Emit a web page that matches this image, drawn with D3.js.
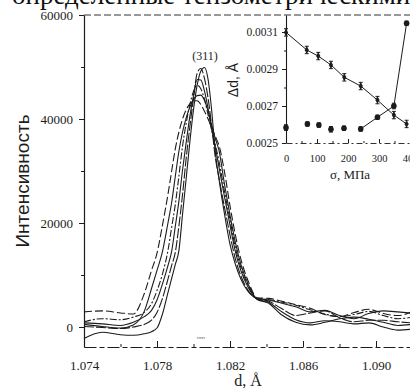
<!DOCTYPE html>
<html>
<head>
<meta charset="utf-8">
<script src="https://cdn.jsdelivr.net/npm/d3@7"></script>
<style>
  body { margin: 0; background: #fff; }
  svg { display: block; }
</style>
</head>
<body>
<div id="chart"></div>
<script>

// d values (Å) shared by all the scans
const dValues = [1.0740, 1.0750, 1.0760, 1.0767, 1.0773, 1.0777, 1.0780, 1.0783, 1.0786, 1.0788,
                 1.0790, 1.0792, 1.0794, 1.0796, 1.0798, 1.0800, 1.0802, 1.0804, 1.0806, 1.0808,
                 1.0810, 1.0812, 1.0814, 1.0817, 1.0820, 1.0823, 1.0826, 1.0830, 1.0835, 1.0841,
                 1.0848, 1.0856, 1.0864, 1.0872, 1.0880, 1.0888, 1.0896, 1.0904, 1.0912, 1.0920]

// intensity of the (311) peak, one scan per load
const scan1 = [-2200, -1000, -1500, -1600, -1300, -900, -200, 2500, 6600, 9300,
               12000, 14700, 21700, 28600, 35600, 41800, 46500, 49200, 49900, 47600,
               41500, 33500, 28400, 21700, 15900, 12000, 9200, 6800, 5500, 5200,
               4600, 3900, 2900, 3200, 2200, 1600, 2600, 3100, 2900, 2600]
const scan2 = [100, -100, -300, 0, 500, 1300, 2800, 5500, 9200, 11800,
               14300, 19400, 25500, 32500, 38500, 44000, 48800, 49700, 47800, 44000,
               38500, 32500, 28600, 23000, 17700, 13000, 9800, 7000, 5400, 5000,
               3600, 2200, 2700, 3100, 1800, 1000, 1300, 1300, 1000, 800]
const scan3 = [800, 600, 300, 900, 2000, 3200, 5200, 8300, 11800, 14500,
               19300, 24200, 30200, 35500, 40500, 44500, 47600, 47500, 45400, 42000,
               38000, 34500, 30700, 25000, 19600, 14400, 10800, 7600, 5300, 4600,
               2400, 900, 400, 900, 1600, 1900, 1500, 900, 300, 500]
const scan4 = [1000, 1600, 1400, 1900, 2800, 4500, 7000, 10200, 14700, 19100,
               23500, 29000, 34800, 39200, 42800, 45300, 46500, 45800, 43800, 40800,
               37800, 35000, 31800, 26000, 20600, 15200, 11400, 8000, 5400, 5300,
               4800, 4200, 3300, 2500, 2000, 2400, 3000, 2200, 1600, 1900]
const scan5 = [500, 100, -200, 400, 3000, 7400, 10900, 14500, 20000, 23900,
               28900, 33800, 37500, 40200, 42300, 43700, 44500, 44600, 43600, 41500,
               38800, 36200, 33900, 27400, 21500, 16200, 12000, 8200, 5300, 4800,
               3000, 1400, 800, 1200, 1000, 600, 800, 0, -600, -400]
const scan6 = [2900, 3100, 2700, 2500, 6400, 10900, 14200, 19600, 25500, 29900,
               34200, 37500, 40000, 41800, 42900, 43500, 43500, 42800, 41500, 40000,
               38300, 36600, 34900, 29800, 23300, 17600, 13000, 8800, 5600, 5500,
               5000, 4300, 3600, 2400, 2000, 2800, 3400, 2600, 2200, 3000]
const scans = [scan1, scan2, scan3, scan4, scan5, scan6]

const xTicks = [1.074, 1.078, 1.082, 1.086, 1.090]
const xMinorTicks = [1.076, 1.080, 1.084, 1.088, 1.092]
const yTicks = [0, 20000, 40000, 60000]
const yMinorTicks = [10000, 30000, 50000]

// inset: peak width against load
const sigmaA = [0, 67, 104, 145, 188, 241, 295, 348, 389]
const widthA = [0.003098, 0.003003, 0.00297, 0.002922, 0.002855, 0.002808, 0.002732, 0.002651, 0.002603]
const errA = [0.00002, 0.00002, 0.00002, 0.00002, 0.00002, 0.00002, 0.00002, 0.00002, 0.00002]
const sigmaB = [0, 69, 106, 145, 187, 241, 295, 348, 389]
const widthB = [0.002583, 0.002603, 0.002597, 0.002574, 0.00258, 0.002576, 0.002639, 0.0027, 0.003147]
const errB = [0.000015, 0.000012, 0.000012, 0.000015, 0.000012, 0.000012, 0.000012, 0.000015, 0.000012]
const insetXTicks = [0, 100, 200, 300, 400]
const insetXMinor = [50, 150, 250, 350]
const insetYTicks = [0.0025, 0.0027, 0.0029, 0.0031]
const insetYMinor = [0.0026, 0.0028, 0.0030]

const ink = "#1c1c1c"
const serif = "'Liberation Serif', 'Times New Roman', serif"
const sans = "'Liberation Sans', Arial, sans-serif"
const scanDash = [null, "10,2", null, "7,2,2,2", null, "8,3"]

const svg = d3.select("#chart")
    .append("svg")
    .attr("width", 410)
    .attr("height", 390)

// scanned line of text above the figure
svg.append("text")
    .attr("x", 12)
    .attr("y", 4)
    .style("font-family", serif)
    .style("font-size", "27px")
    .attr("fill", "#111")
    .text("определенные тензометрическими датчиками")

// main scales
const x = d3.scaleLinear().domain([1.074, 1.092]).range([84, 412.5])
const y = d3.scaleLinear().domain([-3846, 60000]).range([347, 15])

// top frame
svg.append("line")
    .attr("x1", 84).attr("x2", 412)
    .attr("y1", y(60000)).attr("y2", y(60000))
    .attr("stroke", ink).attr("stroke-width", 0.9)
    .attr("stroke-dasharray", "7,3")

// y axis
const yAxis = svg.append("g")
    .attr("transform", "translate(84,0)")
    .call(d3.axisLeft(y).tickValues(yTicks).tickSize(5).tickSizeOuter(0).tickPadding(6)
        .tickFormat(d3.format("d")))
yAxis.select(".domain").attr("stroke", ink).attr("stroke-width", 1.2)
yAxis.selectAll(".tick line").attr("stroke", ink)
yAxis.selectAll(".tick text")
    .style("font-family", serif).style("font-size", "13px").attr("fill", ink)

svg.append("g")
    .attr("transform", "translate(84,0)")
    .call(d3.axisLeft(y).tickValues(yMinorTicks).tickSize(3).tickFormat(""))
    .call(g => g.select(".domain").remove())
    .selectAll(".tick line").attr("stroke", ink)

// x axis, ticks pointing inside
const xAxis = svg.append("g")
    .attr("transform", "translate(0,347)")
    .call(d3.axisBottom(x).tickValues(xTicks).tickSize(-6).tickSizeOuter(0).tickPadding(14)
        .tickFormat(d3.format(".3f")))
xAxis.select(".domain").attr("stroke", ink).attr("stroke-width", 1)
    .attr("stroke-dasharray", "12,3,5,3")
xAxis.selectAll(".tick line").attr("stroke", ink)
xAxis.selectAll(".tick text")
    .style("font-family", serif).style("font-size", "13px").attr("fill", ink)

svg.append("g")
    .attr("transform", "translate(0,347)")
    .call(d3.axisBottom(x).tickValues(xMinorTicks).tickSize(-3).tickFormat(""))
    .call(g => g.select(".domain").remove())
    .selectAll(".tick line").attr("stroke", ink)

// axis titles
svg.append("text")
    .attr("transform", "translate(29,181) rotate(-90)")
    .attr("text-anchor", "middle")
    .style("font-family", sans)
    .style("font-size", "19px")
    .attr("fill", ink)
    .text("Интенсивность")

svg.append("text")
    .attr("x", 248).attr("y", 386)
    .attr("text-anchor", "middle")
    .style("font-family", serif)
    .style("font-size", "16px")
    .attr("fill", ink)
    .text("d, Å")

// the scans
const scanLine = d3.line()
    .x((v, i) => x(dValues[i]))
    .y(v => y(v))
    .curve(d3.curveMonotoneX)

svg.append("g")
    .selectAll("path")
    .data(scans)
    .enter()
    .append("path")
    .attr("d", scanLine)
    .attr("fill", "none")
    .attr("stroke", ink)
    .attr("stroke-width", 1.1)
    .attr("stroke-dasharray", (s, i) => scanDash[i])

svg.append("text")
    .attr("x", 205).attr("y", 60)
    .attr("text-anchor", "middle")
    .style("font-family", serif)
    .style("font-size", "12px")
    .attr("fill", ink)
    .text("(311)")

svg.append("text")
    .attr("x", 201).attr("y", 339)
    .attr("text-anchor", "middle")
    .style("font-family", serif)
    .style("font-size", "5px")
    .attr("fill", "#555")
    .text("ннн")

// ---- inset ----
const xs = d3.scaleLinear().domain([0, 420]).range([286, 416.2])
const ys = d3.scaleLinear().domain([0.0025, 0.003192]).range([143, 15])

const iy = svg.append("g")
    .attr("transform", "translate(286,0)")
    .call(d3.axisLeft(ys).tickValues(insetYTicks).tickSize(4).tickSizeOuter(0).tickPadding(4)
        .tickFormat(d3.format(".4f")))
iy.select(".domain").attr("stroke", ink).attr("stroke-width", 1.1)
iy.selectAll(".tick line").attr("stroke", ink)
iy.selectAll(".tick text")
    .style("font-family", serif).style("font-size", "11.5px").attr("fill", ink)

svg.append("g")
    .attr("transform", "translate(286,0)")
    .call(d3.axisLeft(ys).tickValues(insetYMinor).tickSize(2).tickFormat(""))
    .call(g => g.select(".domain").remove())
    .selectAll(".tick line").attr("stroke", ink)

const ix = svg.append("g")
    .attr("transform", "translate(0,143)")
    .call(d3.axisBottom(xs).tickValues(insetXTicks).tickSize(-4).tickSizeOuter(0).tickPadding(12)
        .tickFormat(d3.format("d")))
ix.select(".domain").attr("stroke", ink).attr("stroke-width", 0.9)
    .attr("stroke-dasharray", "6,3,2,3")
ix.selectAll(".tick line").attr("stroke", ink)
ix.selectAll(".tick text")
    .style("font-family", serif).style("font-size", "10.5px").attr("fill", ink)

svg.append("g")
    .attr("transform", "translate(0,143)")
    .call(d3.axisBottom(xs).tickValues(insetXMinor).tickSize(-2).tickFormat(""))
    .call(g => g.select(".domain").remove())
    .selectAll(".tick line").attr("stroke", ink)

svg.append("text")
    .attr("transform", "translate(238,80) rotate(-90)")
    .attr("text-anchor", "middle")
    .style("font-family", sans)
    .style("font-size", "14px")
    .attr("fill", ink)
    .text("Δd, Å")

svg.append("text")
    .attr("x", 350).attr("y", 179)
    .attr("text-anchor", "middle")
    .style("font-family", serif)
    .style("font-size", "13px")
    .attr("fill", ink)
    .text("σ, МПа")

// series A: falling width, joined through all points
svg.append("path")
    .datum(widthA)
    .attr("d", d3.line().x((v, i) => xs(sigmaA[i])).y(v => ys(v)))
    .attr("fill", "none").attr("stroke", ink).attr("stroke-width", 1)

// series B: line only over the rising part
svg.append("path")
    .datum(widthB)
    .attr("d", d3.line().defined((v, i) => i >= 5).x((v, i) => xs(sigmaB[i])).y(v => ys(v)))
    .attr("fill", "none").attr("stroke", ink).attr("stroke-width", 1)

function errorBars(sig, val, err) {
    const g = svg.append("g").attr("stroke", ink).attr("stroke-width", 1)
    g.selectAll("line.bar")
        .data(val)
        .enter()
        .append("line")
        .attr("x1", (v, i) => xs(sig[i])).attr("x2", (v, i) => xs(sig[i]))
        .attr("y1", (v, i) => ys(v + err[i])).attr("y2", (v, i) => ys(v - err[i]))
    ;[1, -1].forEach(s => {
        g.selectAll(null)
            .data(val)
            .enter()
            .append("line")
            .attr("x1", (v, i) => xs(sig[i]) - 2).attr("x2", (v, i) => xs(sig[i]) + 2)
            .attr("y1", (v, i) => ys(v + s * err[i])).attr("y2", (v, i) => ys(v + s * err[i]))
    })
}
errorBars(sigmaA, widthA, errA)
errorBars(sigmaB, widthB, errB)

svg.append("g")
    .selectAll("path")
    .data(widthA)
    .enter()
    .append("path")
    .attr("transform", (v, i) => `translate(${xs(sigmaA[i])},${ys(v)})`)
    .attr("d", d3.symbol(d3.symbolDiamond, 16))
    .attr("fill", ink)

svg.append("g")
    .selectAll("circle")
    .data(widthB)
    .enter()
    .append("circle")
    .attr("cx", (v, i) => xs(sigmaB[i]))
    .attr("cy", v => ys(v))
    .attr("r", 2.8)
    .attr("fill", ink)
</script>
</body>
</html>
